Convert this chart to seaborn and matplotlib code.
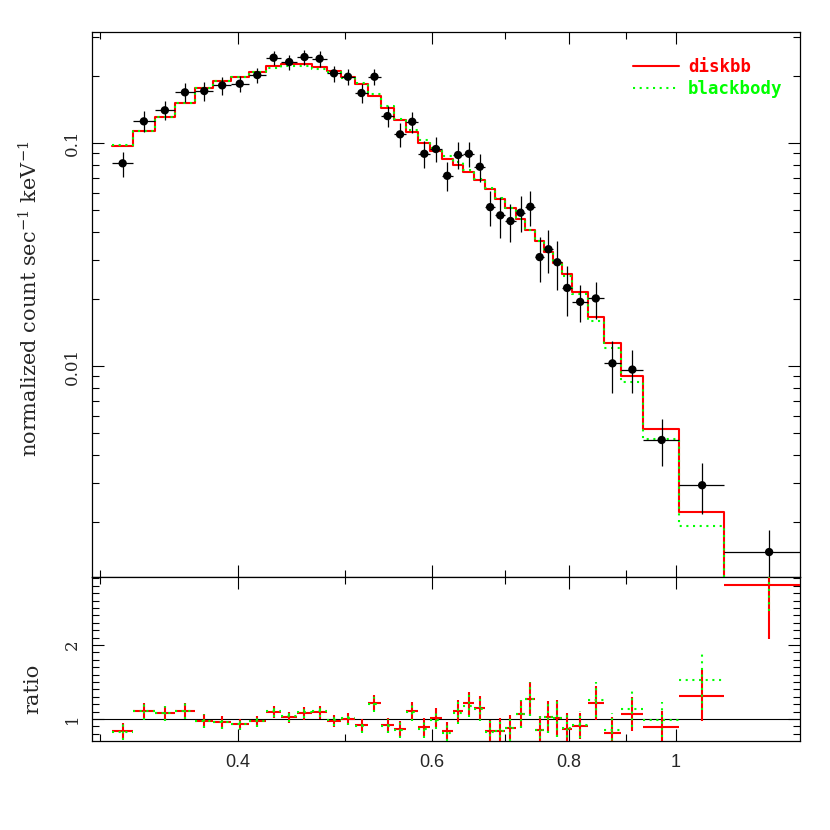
import numpy as np
import pandas as pd
import matplotlib
matplotlib.use("Agg")
import matplotlib.pyplot as plt
import seaborn as sns
from matplotlib.ticker import FixedLocator, NullFormatter, LogLocator, FixedFormatter

# ---------------- data ----------------
energy_edges = [0.3075, 0.321, 0.336, 0.3505, 0.3655, 0.38, 0.394, 0.409, 0.424, 0.438,
                0.4525, 0.467, 0.482, 0.496, 0.511, 0.525, 0.5395, 0.5545, 0.5685, 0.5835,
                0.598, 0.6125, 0.627, 0.641, 0.656, 0.671, 0.685, 0.700, 0.715, 0.730,
                0.745, 0.759, 0.773, 0.7875, 0.8055, 0.8315, 0.860, 0.8915, 0.9345, 1.007,
                1.106, 1.325]
flux = [0.0811, 0.1251, 0.1402, 0.1688, 0.1711, 0.1814, 0.1845, 0.2018, 0.2413, 0.2308,
        0.2430, 0.2388, 0.2054, 0.1983, 0.1676, 0.1983, 0.1321, 0.1094, 0.1246, 0.0895,
        0.0940, 0.0713, 0.0884, 0.0895, 0.0783, 0.0516, 0.0474, 0.0447, 0.0487, 0.0518,
        0.0308, 0.0334, 0.0292, 0.0224, 0.0194, 0.0201, 0.01028, 0.00964, 0.00466, 0.00292,
        0.001465]
flux_err = [0.0104, 0.0136, 0.0136, 0.0164, 0.0166, 0.0167, 0.0148, 0.0160, 0.0170, 0.0173,
            0.0194, 0.0190, 0.0172, 0.0166, 0.0159, 0.0171, 0.0144, 0.0136, 0.0136, 0.0124,
            0.0120, 0.0105, 0.0122, 0.0118, 0.0113, 0.0093, 0.0097, 0.0088, 0.0089, 0.0093,
            0.0071, 0.0072, 0.0073, 0.0056, 0.0037, 0.0038, 0.0027, 0.0021, 0.0011, 0.00076,
            0.00038]
model_diskbb = [0.0970, 0.1135, 0.1304, 0.1516, 0.1759, 0.1897, 0.1983, 0.2082, 0.2208, 0.2254,
                0.2254, 0.2186, 0.2103, 0.1983, 0.1834, 0.1630, 0.1440, 0.1268, 0.1124, 0.1003,
                0.0924, 0.0850, 0.0797, 0.0739, 0.0680, 0.0620, 0.0563, 0.0510, 0.0456, 0.0407,
                0.0362, 0.0325, 0.0289, 0.0258, 0.0214, 0.0166, 0.0127, 0.00902, 0.00520, 0.00222,
                0.00052]
model_blackbody = [0.0980, 0.1135, 0.1304, 0.1516, 0.1759, 0.1897, 0.1983, 0.2082, 0.2174, 0.2219,
                   0.2219, 0.2152, 0.2081, 0.1963, 0.1863, 0.1655, 0.1462, 0.1288, 0.1142, 0.1029,
                   0.0948, 0.0872, 0.0818, 0.0758, 0.0687, 0.0626, 0.0569, 0.0510, 0.0456, 0.0407,
                   0.0362, 0.0325, 0.0289, 0.02535, 0.02096, 0.01593, 0.01206, 0.00845, 0.00469, 0.00192,
                   0.00044]
model_names = ["diskbb", "blackbody"]
x_major_ticks = [0.4, 0.6, 0.8, 1.0]
x_major_labels = ["0.4", "0.6", "0.8", "1"]
x_minor_ticks = [0.3, 0.5, 0.7, 0.9]
y_major_ticks = [0.01, 0.1]
y_major_labels = ["0.01", "0.1"]
ratio_major_ticks = [1, 2]
ratio_major_labels = ["1", "2"]
ratio_minor_ticks = [0.7, 0.8, 0.9, 1.1, 1.2, 1.3, 1.4, 1.5, 1.6, 1.7, 1.8, 1.9,
                     2.1, 2.2, 2.3, 2.4, 2.5, 2.6, 2.7, 2.8, 2.9]

RED = (1.0, 0.0, 0.0)
GREEN = (0.0, 1.0, 0.0)
DOT = (0, (1.0, 2.2))

# ---------------- theme ----------------
sns.set_theme(style="ticks")
plt.rcParams['font.family'] = ['DejaVu Serif']
plt.rcParams['mathtext.fontset'] = 'dejavuserif'
plt.rcParams['axes.linewidth'] = 0.9
plt.rcParams['axes.edgecolor'] = 'black'

edges = np.array(energy_edges)
lo, hi = edges[:-1], edges[1:]
df = pd.DataFrame({
    "energy": (lo + hi) / 2, "lo": lo, "hi": hi,
    "flux": flux, "err": flux_err,
    "diskbb": model_diskbb, "blackbody": model_blackbody,
})
df["ratio_diskbb"] = df.flux / df.diskbb
df["rerr_diskbb"] = df.err / df.diskbb
df["ratio_blackbody"] = df.flux / df.blackbody
df["rerr_blackbody"] = df.err / df.blackbody

step_df = pd.DataFrame({
    "energy": edges,
    "diskbb": np.append(model_diskbb, model_diskbb[-1]),
    "blackbody": np.append(model_blackbody, model_blackbody[-1]),
})

fig = plt.figure(figsize=(8.3, 8.3), dpi=100)
ax1 = fig.add_axes([0.1108, 0.3048, 0.8530, 0.6566])
ax2 = fig.add_axes([0.1108, 0.1072, 0.8530, 0.1976])

# ---------------- top panel ----------------
sns.lineplot(data=step_df, x="energy", y="diskbb", drawstyle="steps-post", color=RED,
             lw=1.5, ax=ax1, label=model_names[0], estimator=None, sort=False, zorder=3)
sns.lineplot(data=step_df, x="energy", y="blackbody", drawstyle="steps-post", color=GREEN,
             lw=1.5, linestyle=DOT, ax=ax1, label=model_names[1], estimator=None, sort=False,
             zorder=4)
ax1.errorbar(df.energy, df.flux, yerr=df.err, xerr=[df.energy - df.lo, df.hi - df.energy],
             fmt="none", ecolor="black", elinewidth=0.9, capsize=0, zorder=5)
sns.scatterplot(data=df, x="energy", y="flux", color="black", s=36, edgecolor="none",
                ax=ax1, zorder=6, legend=False)

ax1.set_xscale("log")
ax1.set_yscale("log")
ax1.set_xlim(0.2947, 1.2965)
ax1.set_ylim(0.001132, 0.3146)

leg = ax1.legend(loc="upper left", bbox_to_anchor=(0.755, 0.965), frameon=False,
                 labelcolor="linecolor", handlelength=2.6, handletextpad=0.55,
                 labelspacing=0.25, borderaxespad=0,
                 prop={"family": "DejaVu Sans Mono", "weight": "bold", "size": 12.5})

# ---------------- ratio panel ----------------
ax2.axhline(1.0, color="black", lw=0.8, zorder=1)
ax2.errorbar(df.energy, df.ratio_diskbb, yerr=df.rerr_diskbb,
             xerr=[df.energy - df.lo, df.hi - df.energy],
             fmt="none", ecolor=RED, elinewidth=1.5, capsize=0, zorder=3)
eb = ax2.errorbar(df.energy, df.ratio_blackbody, yerr=df.rerr_blackbody,
                  xerr=[df.energy - df.lo, df.hi - df.energy],
                  fmt="none", ecolor=GREEN, elinewidth=1.5, capsize=0, zorder=4)
for coll in eb[2]:
    coll.set_linestyle(DOT)

ax2.set_xscale("log")
ax2.set_xlim(0.2947, 1.2965)
ax2.set_ylim(0.703, 2.919)

# ---------------- ticks & labels ----------------
for ax in (ax1, ax2):
    ax.xaxis.set_major_locator(FixedLocator(x_major_ticks))
    ax.xaxis.set_minor_locator(FixedLocator(x_minor_ticks))
    ax.xaxis.set_minor_formatter(NullFormatter())
    ax.tick_params(which="both", direction="in", top=True, right=True, bottom=True, left=True,
                   color="black", width=0.8)
    ax.tick_params(which="major", length=8.6)
    ax.tick_params(which="minor", length=4.7)
    ax.set_xlabel("")
    for s in ax.spines.values():
        s.set_color("black")
        s.set_linewidth(0.9)

ax1.xaxis.set_major_formatter(NullFormatter())
ax2.xaxis.set_major_formatter(FixedFormatter(x_major_labels))
ax2.tick_params(axis="x", which="major", pad=9)
for lbl in ax2.get_xticklabels():
    lbl.set_fontfamily("Liberation Sans")
    lbl.set_fontsize(13)

ax1.yaxis.set_major_locator(FixedLocator(y_major_ticks))
ax1.yaxis.set_major_formatter(FixedFormatter(y_major_labels))
ax1.yaxis.set_minor_locator(LogLocator(base=10, subs=np.arange(2, 10)))
ax1.yaxis.set_minor_formatter(NullFormatter())

ax2.yaxis.set_major_locator(FixedLocator(ratio_major_ticks))
ax2.yaxis.set_major_formatter(FixedFormatter(ratio_major_labels))
ax2.yaxis.set_minor_locator(FixedLocator(ratio_minor_ticks))
ax2.yaxis.set_minor_formatter(NullFormatter())

for ax in (ax1, ax2):
    ax.tick_params(axis="y", which="major", labelrotation=90, pad=8)
    for lbl in ax.get_yticklabels():
        lbl.set_fontfamily("DejaVu Serif")
        lbl.set_fontsize(12)
        lbl.set_va("center")

ax1.set_ylabel("normalized count sec$^{-1}$ keV$^{-1}$", fontsize=15, family="DejaVu Serif")
ax1.yaxis.set_label_coords(-0.0706, 0.51)
ax2.set_ylabel("ratio", fontsize=15, family="DejaVu Serif")
ax2.yaxis.set_label_coords(-0.0706, 0.32)

fig.savefig("out.png", dpi=100, facecolor="white")
